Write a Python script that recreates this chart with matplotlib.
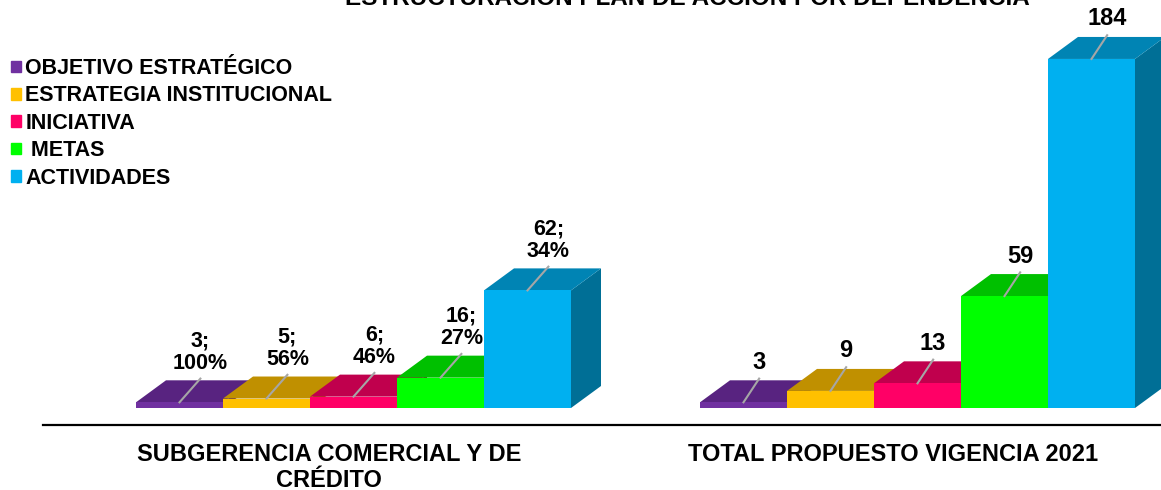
import matplotlib.pyplot as plt
from matplotlib.patches import Polygon, Patch

plt.rcParams['font.family'] = ['Liberation Sans', 'DejaVu Sans']
plt.rcParams['font.weight'] = 'bold'

# -----------------------------------------------------------------------------
# data
# -----------------------------------------------------------------------------
series = ['OBJETIVO ESTRATÉGICO', 'ESTRATEGIA INSTITUCIONAL', 'INICIATIVA',
          ' METAS', 'ACTIVIDADES']
groups = ['SUBGERENCIA COMERCIAL Y DE\nCRÉDITO', 'TOTAL PROPUESTO VIGENCIA 2021']
subgerencia = [3, 5, 6, 16, 62]
subgerencia_pct = ['100%', '56%', '46%', '27%', '34%']
total = [3, 9, 13, 59, 184]
title = 'ESTRUCTURACIÓN PLAN DE ACCIÓN POR DEPENDENCIA'

front_colors = ['#7030A0', '#FFC000', '#FF0066', '#00FF00', '#00B0F0']
top_colors = ['#582380', '#C09000', '#C0004D', '#00C000', '#0084B4']
side_colors = ['#481C68', '#A07800', '#A00040', '#00A000', '#006F96']

# -----------------------------------------------------------------------------
# layout (pixel calibration of the original picture)
# -----------------------------------------------------------------------------
W, H = 1161, 490
bar_px = 87.0          # width of one bar
unit_px = 1.897        # pixels per value unit
base_px = 408          # baseline, pixels from top
left_px = [136, 700]   # left edge of each group
depth_x = 30 / bar_px
depth_y = 22 / unit_px


def px_x(p):
    return (p - left_px[0]) / bar_px


def px_y(p):
    return (base_px - p) / unit_px


fig = plt.figure(figsize=(W / 100, H / 100), dpi=100)
ax = fig.add_axes([0, 0, 1, 1])
ax.set_xlim(px_x(0), px_x(W))
ax.set_ylim(px_y(H), px_y(0))
ax.axis('off')


def draw_bar(x, v, i):
    ax.add_patch(Polygon([(x + 1, 0), (x + 1 + depth_x, depth_y),
                          (x + 1 + depth_x, v + depth_y), (x + 1, v)],
                         closed=True, color=side_colors[i], lw=0))
    ax.add_patch(Polygon([(x, v), (x + 1, v), (x + 1 + depth_x, v + depth_y),
                          (x + depth_x, v + depth_y)],
                         closed=True, color=top_colors[i], lw=0))
    ax.bar(x, v, width=1, align='edge', color=front_colors[i], lw=0)


def label_bar(x, v, text, size, lean):
    xc = x + 0.5
    x1 = xc + lean
    y1 = v + 12.5
    ax.plot([xc, x1], [v, y1], color='#A6A6A6', lw=1.5, zorder=5)
    ax.text(x1, y1 + 2.5, text, ha='center', va='bottom', fontsize=size,
            fontweight='bold', linespacing=1.1, zorder=6)


for g, values in enumerate([subgerencia, total]):
    x0 = px_x(left_px[g])
    for i, v in enumerate(values):
        draw_bar(x0 + i, v, i)
    for i, v in enumerate(values):
        if g == 0:
            label_bar(x0 + i, v, '%d;\n%s' % (v, subgerencia_pct[i]), 15.5, 0.24)
        else:
            label_bar(x0 + i, v, str(v), 17, 0.18)
    ax.text(x0 + 2.5 - 0.28, px_y(443), groups[g], ha='center', va='top',
            fontsize=17, fontweight='bold', linespacing=1.15)

# category axis line
ax.plot([px_x(43), px_x(W)], [px_y(425), px_y(425)], color='black', lw=1.6)

# legend
handles = [Patch(color=c) for c in front_colors]
ax.legend(handles, series, loc='upper left', bbox_to_anchor=(11 / W, 1 - 58 / H),
          bbox_transform=fig.transFigure, frameon=False,
          handlelength=0.45, handleheight=0.45, handletextpad=0.22,
          labelspacing=0.3, borderaxespad=0, borderpad=0,
          prop={'size': 15.5, 'weight': 'bold'})

# title, mostly cut off at the top of the picture (as in the original)
fig.text(687 / W, 1 - 5 / H, title, ha='center', va='baseline',
         fontsize=17.5, fontweight='bold')

fig.savefig('out.png', dpi=100)
